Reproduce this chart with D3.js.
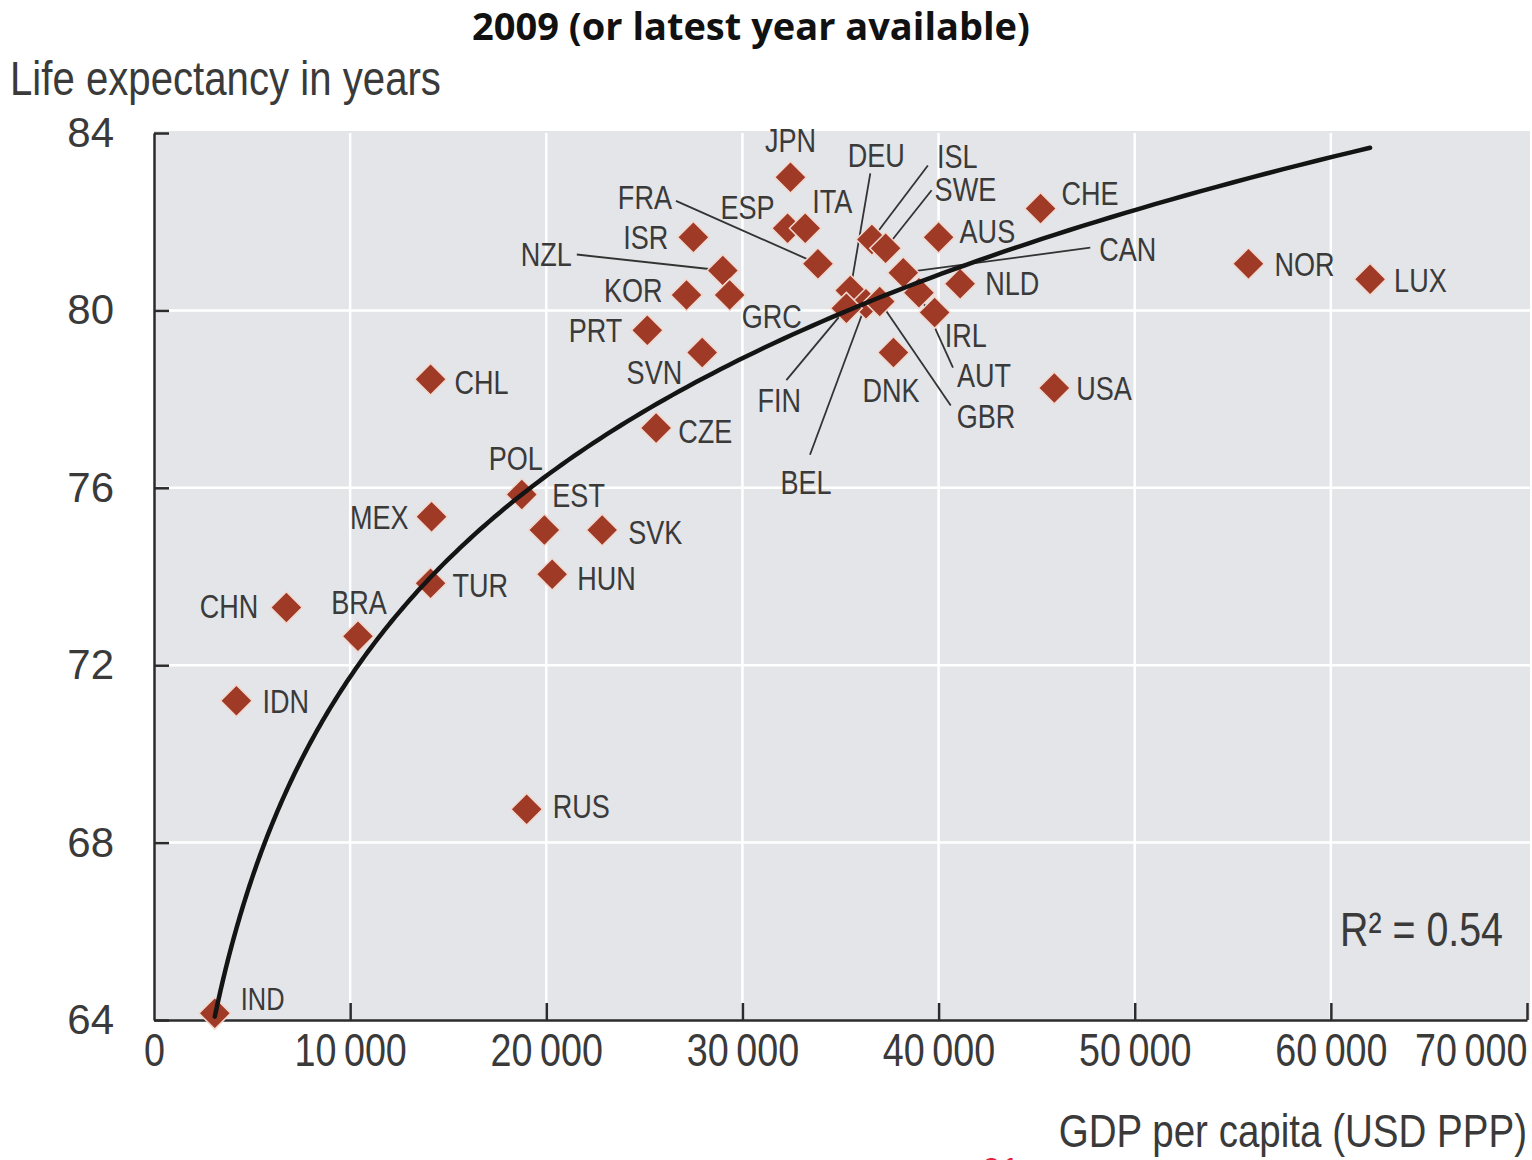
<!DOCTYPE html>
<html>
<head>
<meta charset="utf-8">
<script src="https://cdn.jsdelivr.net/npm/d3@7"></script>
<style>
  html, body { margin: 0; padding: 0; background: #ffffff; }
  svg { display: block; }
</style>
</head>
<body>
<svg id="chart" width="1532" height="1160"></svg>
<script>
// Life expectancy at birth vs GDP per capita, 2009 (or latest year available)
const countries = ["IND","IDN","CHN","BRA","TUR","MEX","CHL","RUS","POL","EST","SVK","HUN","CZE","SVN","PRT","KOR","ISR","NZL","GRC","FRA","ESP","ITA","JPN","DEU","BEL","FIN","GBR","ISL","SWE","CAN","AUT","IRL","NLD","AUS","DNK","CHE","USA","NOR","LUX"];
const gdpPerCapita = [3100,4200,6750,10400,14100,14150,14100,19000,18750,19900,22850,20300,25600,27950,25150,27150,27500,29000,29350,33850,32300,33200,32450,35500,36300,35300,37000,36600,37300,38200,39000,39800,41100,40000,37700,45200,45900,55800,62000];
const lifeExpectancy = [64.15,71.2,73.3,72.65,73.85,75.35,78.45,68.75,75.85,75.05,75.05,74.05,77.35,79.05,79.55,80.35,81.65,80.9,80.35,81.05,81.85,81.85,83.0,80.45,80.15,80.05,80.2,81.6,81.4,80.85,80.4,79.95,80.6,81.65,79.05,82.3,78.25,81.05,80.7];

// Logarithmic trend: life = intercept + slope * ln(gdp)
const trendIntercept = 11.5;
const trendSlope = 6.54;

const xTicks = [0,10000,20000,30000,40000,50000,60000,70000];
const yTicks = [64,68,72,76,80,84];
const titleText = "2009 (or latest year available)";
const yTitle = "Life expectancy in years";
const xTitle = "GDP per capita (USD PPP)";
const r2Text = "R\u00B2 = 0.54";

// Label placement relative to each marker: [anchor, dx, dy, leader start dx, leader start dy]
const labelLayout = {
  IND: ["start", 26, -15], IDN: ["start", 26, 0], CHN: ["end", -28, -2], BRA: ["middle", 1, -34],
  TUR: ["start", 22, 2], MEX: ["end", -23, 0], CHL: ["start", 24, 3], RUS: ["start", 26, -3],
  POL: ["middle", -6, -36], EST: ["start", 8, -35], SVK: ["start", 26, 2], HUN: ["start", 25, 4],
  CZE: ["start", 22, 3], SVN: ["end", -20, 19], PRT: ["end", -25, 0], KOR: ["end", -24, -5],
  ISR: ["end", -25, 0], NZL: ["end", -151, -16, -146, -16], GRC: ["start", 12, 21],
  FRA: ["end", -146, -67, -142, -63], ESP: ["start", -67, -21], ITA: ["start", 7, -27],
  JPN: ["middle", 0, -37], DEU: ["middle", 26, -135, 20, -117], BEL: ["middle", -60, 178, -56, 151],
  FIN: ["start", -89, 92, -60, 72], GBR: ["start", 77, 114, 71, 104], ISL: ["start", 65, -83, 56, -74],
  SWE: ["start", 49, -59, 46, -58], CAN: ["start", 196, -24, 187, -25], AUT: ["start", 38, 82, 34, 75],
  IRL: ["start", 10, 22], NLD: ["start", 25, -1], AUS: ["start", 21, -6], DNK: ["start", -31, 37],
  CHE: ["start", 21, -15], USA: ["start", 22, 0], NOR: ["start", 26, 0], LUX: ["start", 24, 1]
};

const points = countries.map((c, i) => ({ code: c, gdp: gdpPerCapita[i], life: lifeExpectancy[i] }));

const svg = d3.select("#chart");
const sans = "'Liberation Sans',Arial,Helvetica,sans-serif";
const squeeze = 0.82;           // horizontal compression for the condensed lettering
const textColor = "#3a3a3a";

// Condensed text: regular face squeezed horizontally around its anchor point
function condensedText(parent, px, py, str, size, anchor) {
  return parent.append("text")
    .attr("transform", `translate(${px},${py}) scale(${squeeze},1)`)
    .attr("text-anchor", anchor || "start")
    .style("font-family", sans).style("font-size", size + "px").style("fill", textColor)
    .text(str);
}

const x = d3.scaleLinear().domain([0, 70000]).range([154, 1527]);
const y = d3.scaleLinear().domain([64, 84]).range([1020, 133]);

// Title
svg.append("text")
  .attr("x", 751).attr("y", 40)
  .attr("text-anchor", "middle")
  .style("font-family", "'Open Sans','DejaVu Sans',sans-serif")
  .style("font-weight", 700).style("font-size", "38px").style("fill", "#111")
  .text(titleText);

// Axis title (y)
condensedText(svg, 10, 95, yTitle, 49);

// Plot background
svg.append("rect")
  .attr("x", x(0)).attr("y", y(84) - 2)
  .attr("width", 1530 - x(0)).attr("height", y(64) - y(84) + 2)
  .attr("fill", "#e3e5e8");

// Grid
const grid = svg.append("g");
grid.selectAll("line.v").data(xTicks.filter(d => d > 0 && d < 70000)).join("line")
  .attr("x1", d => x(d)).attr("x2", d => x(d))
  .attr("y1", y(84)).attr("y2", y(64))
  .attr("stroke", "#ffffff").attr("stroke-width", 2.5);
grid.selectAll("line.h").data(yTicks.filter(d => d > 64 && d < 84)).join("line")
  .attr("x1", x(0)).attr("x2", 1530)
  .attr("y1", d => y(d)).attr("y2", d => y(d))
  .attr("stroke", "#ffffff").attr("stroke-width", 2.5);

// Axes
const yAxis = svg.append("g")
  .attr("transform", `translate(${x(0)},0)`)
  .call(d3.axisLeft(y).tickValues(yTicks).tickSizeInner(-15).tickSizeOuter(0).tickPadding(40).tickFormat(d3.format("d")));
yAxis.selectAll("text").style("font-family", sans).style("font-size", "42px").style("fill", "#3a3a3a");

const xAxis = svg.append("g")
  .attr("transform", `translate(0,${y(64)})`)
  .call(d3.axisBottom(x).tickValues(xTicks).tickSizeInner(-17).tickSizeOuter(0).tickPadding(13)
    .tickFormat(d => d === 0 ? "0" : d3.format(",")(d).replace(",", "\u2009")));
xAxis.selectAll("text")
  .attr("transform", `scale(${squeeze},1)`)
  .style("font-family", sans).style("font-size", "46px").style("fill", "#3a3a3a");
xAxis.selectAll(".tick").filter(d => d === 70000).select("text").attr("text-anchor", "end");

[yAxis, xAxis].forEach(g => {
  g.select(".domain").attr("stroke", "#2b2b2b").attr("stroke-width", 2.5);
  g.selectAll(".tick line").attr("stroke", "#2b2b2b").attr("stroke-width", 2.5);
});
xAxis.selectAll(".tick").filter(d => d === 0).select("line").remove();

// Trend curve across the observed GDP range
const [gMin, gMax] = d3.extent(gdpPerCapita);
const trend = d3.range(0, 201).map(k => {
  const g = Math.exp(Math.log(gMin) + (Math.log(gMax) - Math.log(gMin)) * k / 200);
  return [g, trendIntercept + trendSlope * Math.log(g)];
});

// Leader lines
const leaders = svg.append("g");
points.forEach(p => {
  const L = labelLayout[p.code];
  if (L.length > 3) {
    leaders.append("line")
      .attr("x1", x(p.gdp) + L[3]).attr("y1", y(p.life) + L[4])
      .attr("x2", x(p.gdp)).attr("y2", y(p.life))
      .attr("stroke", "#333").attr("stroke-width", 1.8);
  }
});

// Markers
svg.append("g").selectAll("path").data(points).join("path")
  .attr("d", d3.symbol(d3.symbolSquare, 500))
  .attr("transform", d => `translate(${x(d.gdp)},${y(d.life)}) rotate(45)`)
  .attr("fill", "#9f3a27")
  .attr("stroke", "#f2d8cf").attr("stroke-width", 1.5);

svg.append("path")
  .datum(trend)
  .attr("d", d3.line().x(d => x(d[0])).y(d => y(d[1])))
  .attr("fill", "none").attr("stroke", "#141414").attr("stroke-width", 4.5)
  .attr("stroke-linecap", "round");

// Country labels
const labels = svg.append("g");
points.forEach(p => {
  const L = labelLayout[p.code];
  condensedText(labels, x(p.gdp) + L[1], y(p.life) + L[2] + 12, p.code, p.code === "IND" ? 31 : 33, L[0]);
});

// R-squared note
condensedText(svg, 1503, 946, r2Text, 48, "end");

// Axis title (x)
condensedText(svg, 1527, 1147, xTitle, 47, "end");

// Page number, cut by the lower edge
svg.append("text")
  .attr("x", 982).attr("y", 1181)
  .style("font-family", sans).style("font-size", "34px").style("fill", "#e8203c")
  .text("01");
</script>
</body>
</html>
